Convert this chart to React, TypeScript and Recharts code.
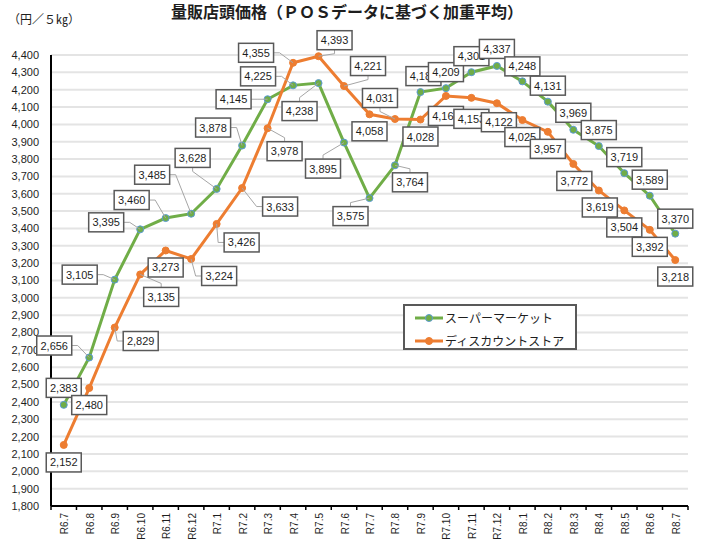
import {
  CartesianGrid,
  LabelList,
  Legend,
  Line,
  LineChart,
  XAxis,
  YAxis,
} from "recharts";

const months = [
  "R6.7", "R6.8", "R6.9", "R6.10", "R6.11", "R6.12",
  "R7.1", "R7.2", "R7.3", "R7.4", "R7.5", "R7.6",
  "R7.7", "R7.8", "R7.9", "R7.10", "R7.11", "R7.12",
  "R8.1", "R8.2", "R8.3", "R8.4", "R8.5", "R8.6", "R8.7",
];

const supermarket = [
  2383, 2656, 3105, 3395, 3460, 3485,
  3628, 3878, 4145, 4225, 4238, 3895,
  3575, 3764, 4186, 4209, 4301, 4337,
  4248, 4131, 3969, 3875, 3719, 3589, 3370,
];

const discountStore = [
  2152, 2480, 2829, 3135, 3273, 3224,
  3426, 3633, 3978, 4355, 4393, 4221,
  4058, 4031, 4028, 4164, 4153, 4122,
  4025, 3957, 3772, 3619, 3504, 3392, 3218,
];

const yTicks = [
  1800, 1900, 2000, 2100, 2200, 2300, 2400, 2500, 2600, 2700,
  2800, 2900, 3000, 3100, 3200, 3300, 3400, 3500, 3600, 3700,
  3800, 3900, 4000, 4100, 4200, 4300, 4400,
];

// label box offsets from each point (dx, dy), as placed by hand in the original
const superLabelOffsets = [
  [0, -17], [-35, -12], [-35, -5], [-34, -7], [-34, -18], [-39, -39],
  [-24, -31], [-29, -18], [-34, 0], [-35, -9], [-19, 28], [-21, 26],
  [-19, 18], [15, 17], [3, -16], [0, -16], [0, -16], [0, -17],
  [0, -15], [0, -16], [0, -17], [0, -16], [0, -16], [0, -16], [0, -15],
];

const discountLabelOffsets = [
  [0, 17.5], [0, 17], [26, 13.5], [21, 22.5], [0, 17], [28, 17],
  [25, 18.5], [38, 18.5], [17, 23], [-37, -10], [16, -16], [24, -20],
  [0, 17], [-15, -21], [0, 17], [0, 20], [0, 21], [2, 19],
  [0, 17], [0, 17], [1, 17], [1, 17], [0, 17], [0, 17], [0, 16.5],
];

const chartData = months.map((month, i) => ({
  month,
  super: supermarket[i],
  discount: discountStore[i],
}));

const colors = {
  green: "#70ad47",
  greenMarker: "#5b9bd5",
  orange: "#ed7d31",
  grid: "#e4e4e4",
  axis: "#000000",
  boxBorder: "#595959",
  leader: "#a6a6a6",
  text: "#1e1e1e",
};

const latin = "'Liberation Sans', Arial, sans-serif";
const cjk = "'Noto Sans CJK JP', sans-serif";

const fmt = (v: number) => v.toLocaleString("en-US");

const BOX_W = 35;
const BOX_H = 19;
const HALF_BAND = 12.75;

const makeLabel = (offsets: number[][]) => (props: any) => {
  const { x, y, value, index } = props;
  const [dx, dy] = offsets[index] ?? [0, -16];
  const cx = x + dx;
  const cy = y + dy;
  const left = cx - BOX_W / 2;
  const top = cy - BOX_H / 2;
  const right = left + BOX_W;
  const bottom = top + BOX_H;

  let leader = null;
  if (Math.abs(dx) > 5) {
    let ax: number, ay: number, sx: number, sy: number;
    if (x < left - 7 || x > right + 7) {
      ax = x < left ? left : right;
      ay = cy;
      sx = ax + (x < left ? -6 : 6);
      sy = ay;
    } else {
      ax = cx;
      ay = y < top ? top : bottom;
      sx = ax;
      sy = ay + (y < top ? -4 : 4);
    }
    leader = (
      <polyline
        points={`${ax},${ay} ${sx},${sy} ${x},${y}`}
        fill="none"
        stroke={colors.leader}
        strokeWidth={1}
      />
    );
  }

  return (
    <g key={`lbl-${index}`}>
      {leader}
      <rect
        x={left}
        y={top}
        width={BOX_W}
        height={BOX_H}
        fill="#ffffff"
        stroke={colors.boxBorder}
        strokeWidth={1.5}
      />
      <text
        x={cx}
        y={cy + 4}
        textAnchor="middle"
        fontSize={11}
        fontFamily={latin}
        fill={colors.text}
      >
        {fmt(Number(value))}
      </text>
    </g>
  );
};

const XTick = (props: any) => {
  const { x, y, payload, index } = props;
  return (
    <g>
      <line x1={x - HALF_BAND} y1={y} x2={x - HALF_BAND} y2={y + 4} stroke={colors.axis} strokeWidth={1.5} />
      {index === months.length - 1 && (
        <line x1={x + HALF_BAND} y1={y} x2={x + HALF_BAND} y2={y + 4} stroke={colors.axis} strokeWidth={1.5} />
      )}
      <text
        x={x + 4.5}
        y={y + 7}
        transform={`rotate(-90 ${x + 4.5} ${y + 7})`}
        textAnchor="end"
        fontSize={10}
        fontFamily={latin}
        fill={colors.text}
      >
        {payload.value}
      </text>
    </g>
  );
};

const legendItems = [
  { name: "スーパーマーケット", color: colors.green, marker: colors.greenMarker },
  { name: "ディスカウントストア", color: colors.orange, marker: colors.orange },
];

const renderLegend = () => (
  <div
    style={{
      position: "relative",
      width: 174,
      height: 46,
      boxSizing: "border-box",
      border: `2px solid ${colors.boxBorder}`,
      background: "#ffffff",
    }}
  >
    {legendItems.map((item, i) => (
      <div
        key={item.name}
        style={{
          position: "absolute",
          left: 10,
          top: 3 + i * 23,
          height: 18,
          display: "flex",
          alignItems: "center",
        }}
      >
        <svg width={30} height={10} style={{ display: "block" }}>
          <line x1={0} y1={5} x2={28} y2={5} stroke={item.color} strokeWidth={3} />
          <circle cx={14} cy={5} r={3.5} fill={item.color} stroke={item.marker} strokeWidth={1} />
        </svg>
        <span style={{ fontFamily: cjk, fontSize: 12, color: colors.text, lineHeight: "18px" }}>
          {item.name}
        </span>
      </div>
    ))}
  </div>
);

export default function App() {
  return (
    <div
      style={{
        position: "absolute",
        left: 0,
        top: 0,
        width: 706,
        height: 556,
        background: "#ffffff",
      }}
    >
      <div
        style={{
          position: "absolute",
          left: 0,
          top: 0,
          width: 694,
          textAlign: "center",
          fontFamily: cjk,
          fontWeight: 700,
          fontSize: 16,
          lineHeight: "22px",
          color: colors.text,
        }}
      >
        量販店頭価格（ＰＯＳデータに基づく加重平均）
      </div>
      <div
        style={{
          position: "absolute",
          left: 8,
          top: 11,
          fontFamily: cjk,
          fontSize: 12,
          lineHeight: "16px",
          color: colors.text,
        }}
      >
        （円／５㎏）
      </div>
      <LineChart
        width={706}
        height={556}
        data={chartData}
        margin={{ top: 55, right: 18, bottom: 0, left: 0 }}
      >
        <CartesianGrid vertical={false} stroke={colors.grid} strokeWidth={2} />
        <XAxis
          dataKey="month"
          interval={0}
          padding={{ left: HALF_BAND, right: HALF_BAND }}
          axisLine={{ stroke: colors.axis, strokeWidth: 2 }}
          tickLine={false}
          tickSize={0}
          tickMargin={0}
          height={50}
          tick={<XTick />}
        />
        <YAxis
          domain={[1800, 4400]}
          ticks={yTicks}
          interval={0}
          width={51}
          axisLine={{ stroke: colors.axis, strokeWidth: 2 }}
          tickLine={false}
          tickSize={0}
          tickMargin={12}
          tickFormatter={(v) => fmt(Number(v))}
          tick={{ fontSize: 11, fontFamily: latin, fill: colors.text }}
        />
        <Legend
          layout="vertical"
          align="center"
          verticalAlign="middle"
          content={renderLegend}
          wrapperStyle={{ left: 403, top: 304, width: 174, height: 46 }}
        />
        <Line
          type="linear"
          dataKey="super"
          name="スーパーマーケット"
          stroke={colors.green}
          strokeWidth={3}
          dot={{ r: 3.5, fill: colors.green, stroke: colors.greenMarker, strokeWidth: 1 }}
          activeDot={false}
          isAnimationActive={false}
        >
          <LabelList dataKey="super" content={makeLabel(superLabelOffsets)} />
        </Line>
        <Line
          type="linear"
          dataKey="discount"
          name="ディスカウントストア"
          stroke={colors.orange}
          strokeWidth={3}
          dot={{ r: 3.5, fill: colors.orange, stroke: colors.orange, strokeWidth: 1 }}
          activeDot={false}
          isAnimationActive={false}
        >
          <LabelList dataKey="discount" content={makeLabel(discountLabelOffsets)} />
        </Line>
      </LineChart>
    </div>
  );
}
